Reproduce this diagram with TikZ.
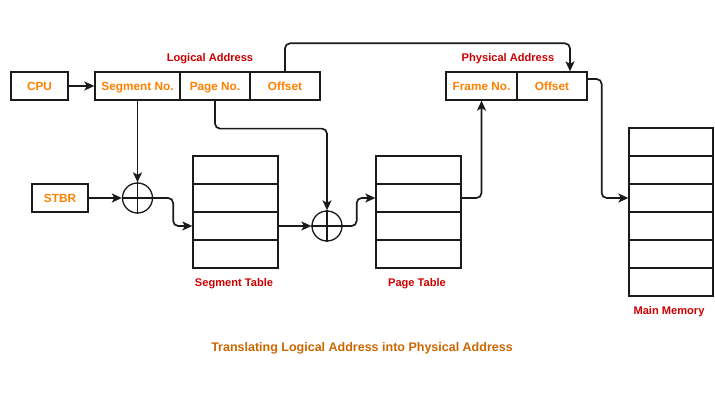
\documentclass[tikz,border=0pt]{standalone}
\usepackage{fontspec}
\setmainfont{Liberation Sans}
\usetikzlibrary{arrows.meta}
\definecolor{boxtxt}{HTML}{FF8000}
\definecolor{lbl}{HTML}{CC0000}
\definecolor{ttl}{HTML}{CC6600}
\definecolor{ln}{HTML}{1A1A1A}
\begin{document}
\begin{tikzpicture}[x=1pt,y=-1pt,
  box/.style={draw=ln,line width=1.3pt,rectangle,inner sep=0pt,minimum height=28pt,text=boxtxt,text depth=0pt,font=\fontsize{11.8}{13}\selectfont\bfseries},
  cell/.style={draw=ln,line width=1.3pt,rectangle,inner sep=0pt,minimum width=85pt,minimum height=28pt},
  lab/.style={text=lbl,font=\fontsize{11.1}{12}\selectfont\bfseries,inner sep=0pt},
  adder/.style={draw=ln,line width=1.3pt,circle,inner sep=0pt,minimum size=30pt},
  conn/.style={draw=ln,line width=1.7pt,rounded corners=5pt,-{Stealth[length=10pt,width=9pt,inset=2.5pt]}}]
\useasboundingbox (0,0) rectangle (715,403);
% top row
\node[box,minimum width=57pt] (cpu) at (39.5,86) {CPU};
\node[box,minimum width=85pt] (segno) at (137.5,86) {Segment No.};
\node[box,minimum width=70pt] (pageno) at (215,86) {Page No.};
\node[box,minimum width=70pt] (off) at (285,86) {Offset};
\node[lab] (la) at (210,59) {Logical Address};
\node[box,minimum width=71pt] (frame) at (481.5,86) {Frame No.};
\node[box,minimum width=70pt] (poff) at (552,86) {Offset};
\node[lab] (pa) at (508,59) {Physical Address};
% STBR and adders
\node[box,minimum width=56pt] (stbr) at (60,198) {STBR};
\node[adder] (c1) at (137.5,198) {};
\node[adder] (c2) at (327,226) {};
\draw[ln,line width=1.3pt] (c1.north) -- (c1.south) (c1.west) -- (c1.east);
\draw[ln,line width=1.3pt] (c2.north) -- (c2.south) (c2.west) -- (c2.east);
% segment table
\node[cell] (seg1) at (235.5,170) {};
\node[cell] (seg2) at (235.5,198) {};
\node[cell] (seg3) at (235.5,226) {};
\node[cell] (seg4) at (235.5,254) {};
\node[lab] (segl) at (234,284) {Segment Table};
% page table
\node[cell] (pt1) at (418.5,170) {};
\node[cell] (pt2) at (418.5,198) {};
\node[cell] (pt3) at (418.5,226) {};
\node[cell] (pt4) at (418.5,254) {};
\node[lab] (ptl) at (417,284) {Page Table};
% main memory
\node[cell,minimum width=84pt] (mm1) at (671,142) {};
\node[cell,minimum width=84pt] (mm2) at (671,170) {};
\node[cell,minimum width=84pt] (mm3) at (671,198) {};
\node[cell,minimum width=84pt] (mm4) at (671,226) {};
\node[cell,minimum width=84pt] (mm5) at (671,254) {};
\node[cell,minimum width=84pt] (mm6) at (671,282) {};
\node[lab] (mml) at (669,312) {Main Memory};
% title
\node[text=ttl,font=\fontsize{12.5}{14}\selectfont\bfseries,inner sep=0pt] (title) at (362,348) {Translating Logical Address into Physical Address};
% connectors
\draw[conn] (cpu.east) -- (segno.west);
\draw[conn] (segno.south) -- (c1.north);
\draw[conn] (stbr.east) -- (c1.west);
\draw[conn] (c1.east) -- ++(20,0) |- (seg3.west);
\draw[conn] (seg3.east) -- (c2.west);
\draw[conn] (pageno.south) -- ++(0,28) -| (c2.north);
\draw[conn] (c2.east) -- ++(14,0) |- (pt2.west);
\draw[conn] (pt2.east) -| (frame.south);
\draw[conn] (off.north) -- ++(0,-28) -| ([xshift=18pt]poff.north);
\draw[conn] ([yshift=7pt]poff.east) -- ++(14,0) |- (mm3.west);
\end{tikzpicture}
\end{document}
